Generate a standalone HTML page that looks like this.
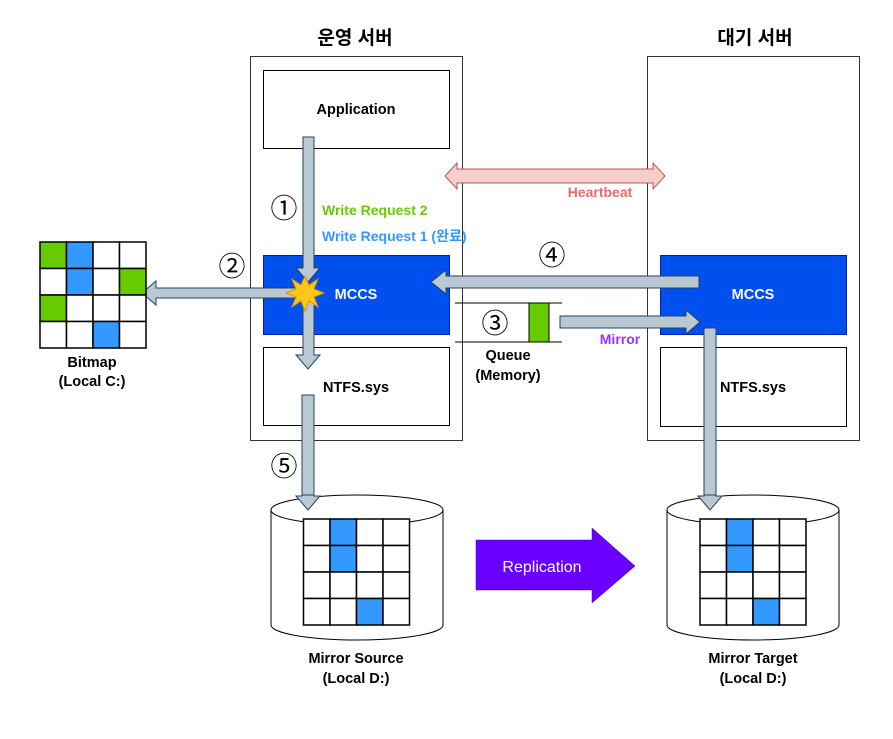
<!DOCTYPE html>
<html><head><meta charset="utf-8"><style>
body{margin:0;background:#fff}
svg text{font-family:"Liberation Sans","Noto Sans CJK KR",sans-serif;font-weight:bold}
</style></head><body>
<svg width="893" height="734" viewBox="0 0 893 734" xmlns="http://www.w3.org/2000/svg">
<rect width="893" height="734" fill="#fff"/>
<text x="355" y="44" font-size="19" text-anchor="middle">운영 서버</text>
<text x="755" y="44" font-size="19" text-anchor="middle">대기 서버</text>
<rect x="250.5" y="56.5" width="212" height="384" fill="#fff" stroke="#333"/>
<rect x="647.5" y="56.5" width="212" height="384" fill="#fff" stroke="#333"/>
<rect x="263.5" y="70.5" width="186" height="78" fill="#fff" stroke="#000"/>
<text x="356" y="114" font-size="14.5" text-anchor="middle">Application</text>
<rect x="263.5" y="255.5" width="186" height="79" fill="#0050ef" stroke="#001dbc"/>
<text x="356" y="299" font-size="14.5" fill="#fff" text-anchor="middle">MCCS</text>
<rect x="263.5" y="347.5" width="186" height="78" fill="#fff" stroke="#000"/>
<text x="356" y="392" font-size="14.5" text-anchor="middle">NTFS.sys</text>
<rect x="660.5" y="255.5" width="186" height="79" fill="#0050ef" stroke="#001dbc"/>
<text x="753" y="299" font-size="14.5" fill="#fff" text-anchor="middle">MCCS</text>
<rect x="660.5" y="347.5" width="186" height="79" fill="#fff" stroke="#000"/>
<text x="753" y="392" font-size="14.5" text-anchor="middle">NTFS.sys</text>

<polygon points="445,176 457,163 457,169 653,169 653,163 665,176 653,189 653,183 457,183 457,189" fill="#f8cecc" stroke="#b85450"/>
<text x="600" y="197" font-size="14" fill="#ea6b66" text-anchor="middle">Heartbeat</text>

<g fill="#bac8d3" stroke="#23445d" stroke-width="1">
<polygon points="303,137 314,137 314,268 320,268 308,282 296,268 303,268"/>
<polygon points="303,298 314,298 314,355 320,355 308,369 296,355 303,355"/>
<polygon points="300,288 300,298 156,298 156,305 142,293 156,281 156,288"/>
<polygon points="699,276 699,288 446,288 446,294 431,282 446,270 446,276"/>
<polygon points="560,316 560,328 686,328 686,334 700,322 686,310 686,316"/>
<polygon points="704,328 716,328 716,496 722,496 710,510 698,496 704,496"/>
<polygon points="302,395 314,395 314,496 320,496 308,510 296,496 302,496"/>
</g>
<polygon points="305,276 309,285 318,279 314,289 324,293 314,297 318,307 309,301 305,311 301,301 292,307 296,297 286,293 296,289 292,279 301,285" fill="#ffc61a" stroke="#e09000" stroke-width="1"/>

<g font-size="27" text-anchor="middle" fill="#000">
<text x="284" y="218" style="font-weight:normal">①</text>
<text x="232" y="276" style="font-weight:normal">②</text>
<text x="495" y="333" style="font-weight:normal">③</text>
<text x="552" y="265" style="font-weight:normal">④</text>
<text x="284" y="476" style="font-weight:normal">⑤</text>
</g>
<text x="322" y="215" font-size="14" fill="#66cc00">Write Request 2</text>
<text x="322" y="241" font-size="14" fill="#3399ff">Write Request 1 (완료)</text>

<g stroke="#000" stroke-width="1.5">
<rect x="40" y="242" width="26.5" height="26.5" fill="#66cc00"/><rect x="66.5" y="242" width="26.5" height="26.5" fill="#3399ff"/><rect x="93" y="242" width="26.5" height="26.5" fill="#fff"/><rect x="119.5" y="242" width="26.5" height="26.5" fill="#fff"/>
<rect x="40" y="268.5" width="26.5" height="26.5" fill="#fff"/><rect x="66.5" y="268.5" width="26.5" height="26.5" fill="#3399ff"/><rect x="93" y="268.5" width="26.5" height="26.5" fill="#fff"/><rect x="119.5" y="268.5" width="26.5" height="26.5" fill="#66cc00"/>
<rect x="40" y="295" width="26.5" height="26.5" fill="#66cc00"/><rect x="66.5" y="295" width="26.5" height="26.5" fill="#fff"/><rect x="93" y="295" width="26.5" height="26.5" fill="#fff"/><rect x="119.5" y="295" width="26.5" height="26.5" fill="#fff"/>
<rect x="40" y="321.5" width="26.5" height="26.5" fill="#fff"/><rect x="66.5" y="321.5" width="26.5" height="26.5" fill="#fff"/><rect x="93" y="321.5" width="26.5" height="26.5" fill="#3399ff"/><rect x="119.5" y="321.5" width="26.5" height="26.5" fill="#fff"/>
</g>
<text x="92" y="367" font-size="14.5" text-anchor="middle">Bitmap</text>
<text x="92" y="386" font-size="14.5" text-anchor="middle">(Local C:)</text>

<line x1="455" y1="303" x2="562" y2="303" stroke="#000"/>
<line x1="455" y1="342" x2="562" y2="342" stroke="#000"/>
<rect x="529" y="303" width="20" height="39" fill="#66cc00" stroke="#000"/>
<text x="508" y="360" font-size="14.5" text-anchor="middle">Queue</text>
<text x="508" y="380" font-size="14.5" text-anchor="middle">(Memory)</text>
<text x="620" y="344" font-size="14" fill="#9933ff" text-anchor="middle">Mirror</text>

<path d="M271,510 L271,625 A86,15 0 0 0 443,625 L443,510" fill="#fff" stroke="#000"/>
<ellipse cx="357" cy="510" rx="86" ry="15" fill="#fff" stroke="#000"/>
<path d="M667,510 L667,625 A86,15 0 0 0 839,625 L839,510" fill="#fff" stroke="#000"/>
<ellipse cx="753" cy="510" rx="86" ry="15" fill="#fff" stroke="#000"/>
<polygon points="302,495 314,495 314,496 320,496 308,510 296,496 302,496" fill="#bac8d3" stroke="#23445d"/>
<polygon points="704,495 716,495 716,496 722,496 710,510 698,496 704,496" fill="#bac8d3" stroke="#23445d"/>
<g stroke="#000" stroke-width="1.5" fill="#fff">
<rect x="303.5" y="519" width="26.5" height="26.5"/><rect x="330" y="519" width="26.5" height="26.5" fill="#3399ff"/><rect x="356.5" y="519" width="26.5" height="26.5"/><rect x="383" y="519" width="26.5" height="26.5"/>
<rect x="303.5" y="545.5" width="26.5" height="26.5"/><rect x="330" y="545.5" width="26.5" height="26.5" fill="#3399ff"/><rect x="356.5" y="545.5" width="26.5" height="26.5"/><rect x="383" y="545.5" width="26.5" height="26.5"/>
<rect x="303.5" y="572" width="26.5" height="26.5"/><rect x="330" y="572" width="26.5" height="26.5"/><rect x="356.5" y="572" width="26.5" height="26.5"/><rect x="383" y="572" width="26.5" height="26.5"/>
<rect x="303.5" y="598.5" width="26.5" height="26.5"/><rect x="330" y="598.5" width="26.5" height="26.5"/><rect x="356.5" y="598.5" width="26.5" height="26.5" fill="#3399ff"/><rect x="383" y="598.5" width="26.5" height="26.5"/>
<rect x="700" y="519" width="26.5" height="26.5"/><rect x="726.5" y="519" width="26.5" height="26.5" fill="#3399ff"/><rect x="753" y="519" width="26.5" height="26.5"/><rect x="779.5" y="519" width="26.5" height="26.5"/>
<rect x="700" y="545.5" width="26.5" height="26.5"/><rect x="726.5" y="545.5" width="26.5" height="26.5" fill="#3399ff"/><rect x="753" y="545.5" width="26.5" height="26.5"/><rect x="779.5" y="545.5" width="26.5" height="26.5"/>
<rect x="700" y="572" width="26.5" height="26.5"/><rect x="726.5" y="572" width="26.5" height="26.5"/><rect x="753" y="572" width="26.5" height="26.5"/><rect x="779.5" y="572" width="26.5" height="26.5"/>
<rect x="700" y="598.5" width="26.5" height="26.5"/><rect x="726.5" y="598.5" width="26.5" height="26.5"/><rect x="753" y="598.5" width="26.5" height="26.5" fill="#3399ff"/><rect x="779.5" y="598.5" width="26.5" height="26.5"/>
</g>
<text x="356" y="663" font-size="14.5" text-anchor="middle">Mirror Source</text>
<text x="356" y="683" font-size="14.5" text-anchor="middle">(Local D:)</text>
<text x="753" y="663" font-size="14.5" text-anchor="middle">Mirror Target</text>
<text x="753" y="683" font-size="14.5" text-anchor="middle">(Local D:)</text>

<polygon points="476,540 592,540 592,528 635,566 592,603 592,590 476,590" fill="#6a00ff" stroke="#3700cc" stroke-width="0.5"/>
<text x="542" y="572" font-size="16" fill="#fff" text-anchor="middle" style="font-weight:normal">Replication</text>
</svg>
</body></html>
